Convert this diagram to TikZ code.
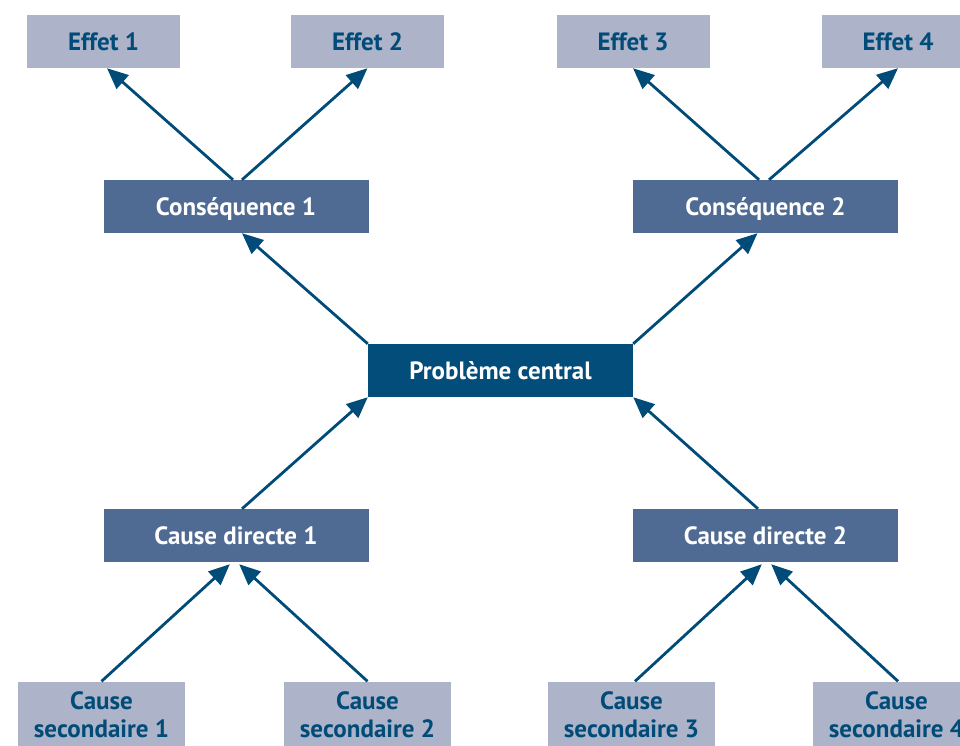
\documentclass[tikz,border=0pt]{standalone}
\usepackage{fontspec}
\setmainfont{PT Sans}
\usepackage{tikz}
\usetikzlibrary{arrows.meta,positioning}
\definecolor{bleufonce}{HTML}{004B78}
\definecolor{bleucentre}{HTML}{024D79}
\definecolor{bleumoyen}{HTML}{4F6B93}
\definecolor{grisbleu}{HTML}{ADB3C9}
\tikzstyle{boite}=[rectangle,inner sep=0pt,font=\bfseries\fontsize{25}{28}\selectfont]
\tikzstyle{effet}=[boite,fill=grisbleu,text=bleufonce,minimum width=153pt,minimum height=53pt,text height=17.5pt,text depth=0pt]
\tikzstyle{bloc}=[boite,fill=bleumoyen,text=white,minimum width=265pt,minimum height=53pt,text height=17.5pt,text depth=0pt]
\tikzstyle{centre}=[bloc,fill=bleucentre]
\tikzstyle{cause}=[boite,fill=grisbleu,text=bleufonce,minimum width=167pt,minimum height=66pt,align=center]
\tikzstyle{fleche}=[-{Triangle[length=21pt,width=18pt]},line width=2.8pt,color=bleufonce]

\begin{document}
\begin{tikzpicture}[x=1pt,y=-1pt]
    \useasboundingbox (0,0) rectangle (960,745);
    \clip (0,0) rectangle (960,745);

          \node[effet]  (e_1) at (103.5,41.5) {Effet 1};
          \node[effet]  (e_2) at (367.5,41.5) {Effet 2};
          \node[effet]  (e_3) at (633,41.5)   {Effet 3};
          \node[effet]  (e_4) at (898,41.5)   {Effet 4};
          \node[bloc]   (c_1) at (236,206.5)  {Conséquence 1};
          \node[bloc]   (c_2) at (765.5,206.5) {Conséquence 2};
          \node[centre] (p)   at (500.5,370.5) {Problème central};
          \node[bloc]   (d_1) at (236,535.5)  {Cause directe 1};
          \node[bloc]   (d_2) at (765.5,535.5) {Cause directe 2};
          \node[cause]  (s_1) at (101.5,714.5) {Cause\\secondaire 1};
          \node[cause]  (s_2) at (367.5,714.5) {Cause\\secondaire 2};
          \node[cause]  (s_3) at (631.5,714.5) {Cause\\secondaire 3};
          \node[cause]  (s_4) at (896.5,714.5) {Cause\\secondaire 4};

          \path[fleche] ([xshift=-3pt]c_1.north) edge ([xshift=3.5pt]e_1.south)
                        ([xshift=6pt]c_1.north) edge (e_2.south)
                        ([xshift=-6.5pt]c_2.north) edge (e_3.south)
                        ([xshift=3.5pt]c_2.north) edge (e_4.south)
                        (p.north west) edge ([xshift=6pt]c_1.south)
                        (p.north east) edge ([xshift=-8pt]c_2.south)
                        ([xshift=6pt]d_1.north) edge (p.south west)
                        ([xshift=-7.5pt]d_2.north) edge (p.south east)
                        (s_1.north) edge[shorten >=3pt] ([xshift=-4pt]d_1.south)
                        (s_2.north) edge[shorten >=3pt] ([xshift=1pt]d_1.south)
                        ([xshift=3.5pt]s_3.north) edge[shorten >=3pt] ([xshift=-1.5pt]d_2.south)
                        ([xshift=1.5pt]s_4.north) edge[shorten >=3pt] ([xshift=3.5pt]d_2.south);
        \end{tikzpicture}
\end{document}
